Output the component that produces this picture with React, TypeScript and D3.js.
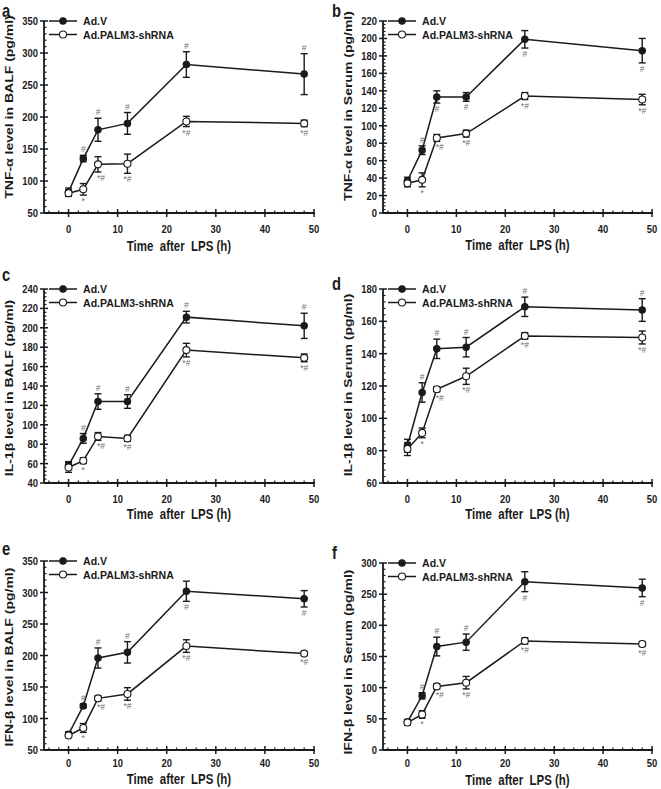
import React from 'react';
import * as d3 from 'd3';

// ---------- data ----------
const timePoints = [0, 3, 6, 12, 24, 48];
const seriesNames = ['Ad.V', 'Ad.PALM3-shRNA'];
const xTicks = [0, 10, 20, 30, 40, 50];
const panelLetters = ['a', 'b', 'c', 'd', 'e', 'f'];
const yTitles = [
  'TNF-α level in BALF (pg/ml)',
  'TNF-α level in Serum (pg/ml)',
  'IL-1β level in BALF (pg/ml)',
  'IL-1β level in Serum (pg/ml)',
  'IFN-β level in BALF (pg/ml)',
  'IFN-β level in Serum (pg/ml)',
];
const xTitle = 'Time  after  LPS (h)';
const yDomains = [[50, 350], [0, 220], [40, 240], [60, 180], [50, 350], [0, 300]];
const yTickSteps = [50, 20, 20, 20, 50, 50];

// a: TNF-α BALF
const tnfBalfAdV = [83, 135, 180, 190, 282, 267];
const tnfBalfAdVErr = [6, 5, 18, 17, 20, 32];
const tnfBalfSh = [81, 87, 126, 127, 193, 190];
const tnfBalfShErr = [5, 9, 12, 15, 8, 5];
// b: TNF-α Serum
const tnfSerumAdV = [37, 72, 133, 133, 199, 186];
const tnfSerumAdVErr = [4, 5, 7, 5, 10, 14];
const tnfSerumSh = [34, 38, 86, 91, 134, 130];
const tnfSerumShErr = [4, 8, 4, 4, 4, 6];
// c: IL-1β BALF
const il1bBalfAdV = [58, 86, 124, 124, 211, 202];
const il1bBalfAdVErr = [4, 5, 8, 7, 6, 13];
const il1bBalfSh = [56, 63, 88, 86, 177, 169];
const il1bBalfShErr = [5, 3, 4, 3, 7, 4];
// d: IL-1β Serum
const il1bSerumAdV = [83, 116, 143, 144, 169, 167];
const il1bSerumAdVErr = [4, 6, 6, 6, 6, 7];
const il1bSerumSh = [81, 91, 118, 126, 151, 150];
const il1bSerumShErr = [4, 3, 1.5, 5, 2, 4];
// e: IFN-β BALF
const ifnbBalfAdV = [75, 120, 196, 205, 302, 290];
const ifnbBalfAdVErr = [4, 3, 16, 17, 16, 13];
const ifnbBalfSh = [73, 85, 132, 139, 215, 203];
const ifnbBalfShErr = [3, 7, 4, 10, 10, 3];
// f: IFN-β Serum
const ifnbSerumAdV = [45, 87, 166, 173, 270, 260];
const ifnbSerumAdVErr = [4, 5, 15, 13, 16, 14];
const ifnbSerumSh = [44, 57, 102, 108, 175, 170];
const ifnbSerumShErr = [4, 6, 4, 10, 5, 4];

// significance marks
const adVMarks = ['', '#', '#', '#', '#', '#'];
const shMarks = ['', '*', '*#', '*#', '*#', '*#'];
// 1 = above error bar, -1 = below
const adVMarkSides = [
  [1, 1, 1, 1, 1, 1],
  [1, 1, -1, -1, -1, -1],
  [1, 1, 1, 1, 1, 1],
  [1, 1, 1, 1, 1, 1],
  [1, 1, 1, 1, -1, -1],
  [1, 1, 1, 1, -1, -1],
];

const adVValues = [tnfBalfAdV, tnfSerumAdV, il1bBalfAdV, il1bSerumAdV, ifnbBalfAdV, ifnbSerumAdV];
const adVErrors = [tnfBalfAdVErr, tnfSerumAdVErr, il1bBalfAdVErr, il1bSerumAdVErr, ifnbBalfAdVErr, ifnbSerumAdVErr];
const shValues = [tnfBalfSh, tnfSerumSh, il1bBalfSh, il1bSerumSh, ifnbBalfSh, ifnbSerumSh];
const shErrors = [tnfBalfShErr, tnfSerumShErr, il1bBalfShErr, il1bSerumShErr, ifnbBalfShErr, ifnbSerumShErr];

// ---------- layout ----------
const colX = [
  { x0: 44, x1: 314, titleX: 13, letterX: 2 },
  { x0: 383, x1: 652, titleX: 352, letterX: 332 },
];
const panelRows = [
  { top: 21, bottom: 213, tickDy: 20, titleDy: 38, letterY: 17, yTitleC: 107 },
  { top: 21, bottom: 213, tickDy: 20, titleDy: 37, letterY: 17, yTitleC: 106 },
  { top: 289, bottom: 483, tickDy: 20, titleDy: 36, letterY: 281, yTitleC: 388 },
  { top: 289, bottom: 483, tickDy: 20, titleDy: 36, letterY: 290, yTitleC: 385 },
  { top: 561, bottom: 750, tickDy: 17, titleDy: 34, letterY: 555, yTitleC: 657 },
  { top: 563, bottom: 750, tickDy: 17, titleDy: 35, letterY: 559, yTitleC: 662 },
];

const FONT = '"Liberation Sans", Arial, Helvetica, sans-serif';
const SX = 0.82;
const INK = '#1a1a1a';

function Txt({ x, y, size, anchor = 'start', sx = SX, weight = 'bold', fill = INK, children }: any) {
  return (
    <text
      transform={`translate(${x},${y}) scale(${sx},1)`}
      fontSize={size}
      fontFamily={FONT}
      fontWeight={weight}
      textAnchor={anchor}
      fill={fill}
      style={{ whiteSpace: 'pre' }}
    >
      {children}
    </text>
  );
}

function Panel({ idx }: { idx: number }) {
  const col = colX[idx % 2];
  const row = panelRows[idx];
  const [y0, y1] = yDomains[idx];
  const step = yTickSteps[idx];
  const x = d3.scaleLinear().domain([-5, 50]).range([col.x0, col.x1]);
  const y = d3.scaleLinear().domain([y0, y1]).range([row.bottom, row.top]);
  const majors = d3.range(y0, y1 + 0.001, step);
  const minors = d3.range(y0, y1 + 0.001, step / 5).filter((v) => (v - y0) % step !== 0);
  const xMinors = d3.range(-4, 50, 2).filter((v) => v % 10 !== 0);
  const line = d3
    .line<number>()
    .x((_, i) => x(timePoints[i]))
    .y((d) => y(d));

  const series = [
    { vals: adVValues[idx], errs: adVErrors[idx], filled: true, marks: adVMarks, sides: adVMarkSides[idx] },
    { vals: shValues[idx], errs: shErrors[idx], filled: false, marks: shMarks, sides: [-1, -1, -1, -1, -1, -1] },
  ];
  const ax = col.x0;
  const cap = 3.5;

  return (
    <g>
      <Txt x={col.letterX} y={row.letterY} size={18}>{panelLetters[idx]}</Txt>
      <text
        transform={`translate(${col.titleX},${row.yTitleC}) scale(${SX},1) rotate(-90)`}
        fontSize={14}
        fontFamily={FONT}
        fontWeight="bold"
        textAnchor="middle"
        fill={INK}
      >
        {yTitles[idx]}
      </text>
      <Txt x={(col.x0 + col.x1) / 2} y={row.bottom + row.titleDy} size={14} anchor="middle">
        {xTitle}
      </Txt>
      <line x1={ax} x2={ax} y1={row.top} y2={row.bottom} stroke={INK} strokeWidth={1.8} />
      <line x1={ax} x2={col.x1 + 1} y1={row.bottom} y2={row.bottom} stroke={INK} strokeWidth={1.8} />
      {majors.map((v) => (
        <g key={'ym' + v}>
          <line x1={ax - 4} x2={ax + 4} y1={y(v)} y2={y(v)} stroke={INK} strokeWidth={1.5} />
          <Txt x={ax - 6} y={y(v) + 4} size={11.5} anchor="end">{String(v)}</Txt>
        </g>
      ))}
      {minors.map((v) => (
        <line key={'yn' + v} x1={ax} x2={ax + 2.5} y1={y(v)} y2={y(v)} stroke={INK} strokeWidth={1.2} />
      ))}
      {xTicks.map((v) => (
        <g key={'xm' + v}>
          <line x1={x(v)} x2={x(v)} y1={row.bottom - 4} y2={row.bottom + 4} stroke={INK} strokeWidth={1.5} />
          <Txt x={x(v)} y={row.bottom + row.tickDy} size={11.5} anchor="middle">{String(v)}</Txt>
        </g>
      ))}
      {xMinors.map((v) => (
        <line key={'xn' + v} x1={x(v)} x2={x(v)} y1={row.bottom - 2.5} y2={row.bottom} stroke={INK} strokeWidth={1.2} />
      ))}
      {series.map((s, si) => (
        <path key={'l' + si} d={line(s.vals) || ''} fill="none" stroke={INK} strokeWidth={1.5} />
      ))}
      {series.map((s, si) =>
        s.vals.map((v, i) => {
          const cx = x(timePoints[i]);
          const yt = y(v + s.errs[i]);
          const yb = y(v - s.errs[i]);
          return (
            <g key={'e' + si + '-' + i} stroke={INK} strokeWidth={1.4}>
              <line x1={cx} x2={cx} y1={yt} y2={yb} />
              <line x1={cx - cap} x2={cx + cap} y1={yt} y2={yt} />
              <line x1={cx - cap} x2={cx + cap} y1={yb} y2={yb} />
            </g>
          );
        })
      )}
      {series.map((s, si) =>
        s.vals.map((v, i) => (
          <circle
            key={'m' + si + '-' + i}
            cx={x(timePoints[i])}
            cy={y(v)}
            r={s.filled ? 3.2 : 3.5}
            fill={s.filled ? INK : '#fff'}
            stroke={INK}
            strokeWidth={1.1}
          />
        ))
      )}
      {series.map((s, si) =>
        s.vals.map((v, i) => {
          const m = s.marks[i];
          if (!m) return null;
          const side = s.sides[i];
          const cx = x(timePoints[i]) + (timePoints[i] === 6 && !s.filled ? 3 : 0);
          const yy = side > 0 ? y(v + s.errs[i]) - 3 : y(v - s.errs[i]) + 9;
          return (
            <Txt key={'s' + si + '-' + i} x={cx} y={yy} size={8.5} anchor="middle" weight="normal" fill="#707070" sx={1}>
              {m}
            </Txt>
          );
        })
      )}
      {seriesNames.map((name, si) => {
        const ly = row.top + si * 13.5;
        return (
          <g key={'lg' + si}>
            <line x1={ax + 5} x2={ax + 33} y1={ly} y2={ly} stroke={INK} strokeWidth={1.5} />
            <circle cx={ax + 19} cy={ly} r={si === 0 ? 3.2 : 3.5} fill={si === 0 ? INK : '#fff'} stroke={INK} strokeWidth={1.1} />
            <Txt x={ax + 39} y={ly + 4} size={11.5} sx={0.92}>{name}</Txt>
          </g>
        );
      })}
    </g>
  );
}

export default function App() {
  return (
    <svg width={661} height={789} viewBox="0 0 661 789" style={{ display: 'block', position: 'absolute', left: 0, top: 0, background: '#fff' }}>
      <rect width={661} height={789} fill="#fff" />
      {panelLetters.map((_, i) => (
        <Panel key={i} idx={i} />
      ))}
    </svg>
  );
}
